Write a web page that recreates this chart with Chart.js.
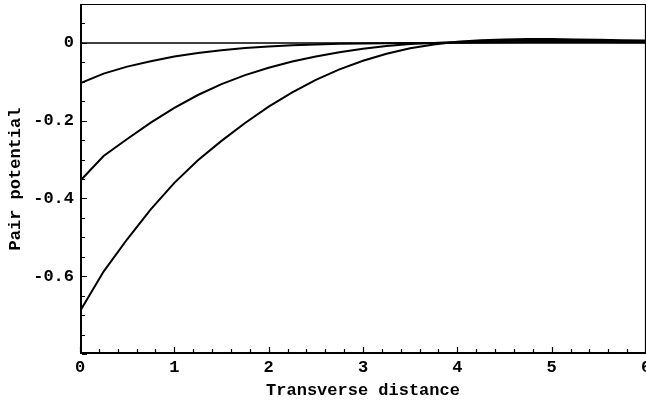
<!DOCTYPE html>
<html>
<head>
<meta charset="utf-8">
<script src="https://cdn.jsdelivr.net/npm/chart.js@4/dist/chart.umd.min.js"></script>
<style>
  html, body { margin:0; padding:0; overflow:hidden; background:#fff; }
  #wrap { width:660px; height:403px; position:relative; }
</style>
</head>
<body>
<div id="wrap"><canvas id="chart"></canvas></div>
<script>
// ------------------------
// DATA
// ------------------------
const xValues = [0, 0.25, 0.5, 0.75, 1, 1.25, 1.5, 1.75, 2, 2.25, 2.5, 2.75, 3,
                 3.25, 3.5, 3.75, 4, 4.25, 4.5, 4.75, 5, 5.25, 5.5, 5.75, 6];

const weakCurve = [-0.104, -0.079, -0.061, -0.047, -0.035, -0.026, -0.019, -0.013, -0.009,
                   -0.006, -0.004, -0.0025, -0.0015, -0.001, -0.0005, 0, 0.0005, 0.001,
                   0.0015, 0.002, 0.002, 0.002, 0.002, 0.0018, 0.0015];

const midCurve = [-0.355, -0.291, -0.247, -0.205, -0.167, -0.134, -0.106, -0.083, -0.064,
                  -0.048, -0.035, -0.024, -0.015, -0.008, -0.003, 0.000, 0.002, 0.004,
                  0.005, 0.006, 0.006, 0.006, 0.005, 0.005, 0.004];

const strongCurve = [-0.690, -0.588, -0.505, -0.428, -0.360, -0.302, -0.252, -0.206, -0.164,
                     -0.127, -0.095, -0.068, -0.046, -0.028, -0.014, -0.004, 0.003, 0.007,
                     0.009, 0.010, 0.010, 0.009, 0.008, 0.007, 0.006];

const zeroLineX = [0, 6];
const zeroLineY = [0, 0];

const X_MIN = 0, X_MAX = 6, X_STEP = 1, X_MINOR = 0.2;
const Y_MIN = -0.8, Y_MAX = 0.1, Y_STEP = 0.2, Y_MINOR = 0.05;
const HIDDEN_Y_LABELS = [-0.8, 0.1];

const FONT = { family: '"Liberation Mono", "DejaVu Sans Mono", monospace', size: 17, weight: 'bold' };

const toPoints = (xs, ys) => xs.map((x, i) => ({ x, y: ys[i] }));

// ------------------------
// FRAME + INWARD TICKS
// ------------------------
const framePlugin = {
  id: 'frame',
  afterDraw(chart){
    const { ctx, chartArea: a, scales: { x, y } } = chart;
    ctx.save();
    ctx.strokeStyle = '#000';

    // top + right (thin)
    ctx.lineWidth = 1.2;
    ctx.beginPath();
    ctx.moveTo(a.left, a.top + 0.5);
    ctx.lineTo(a.right - 0.5, a.top + 0.5);
    ctx.lineTo(a.right - 0.5, a.bottom);
    ctx.stroke();

    // left + bottom (heavy)
    ctx.lineWidth = 2;
    ctx.beginPath();
    ctx.moveTo(a.left + 1, a.top);
    ctx.lineTo(a.left + 1, a.bottom - 1);
    ctx.lineTo(a.right, a.bottom - 1);
    ctx.stroke();

    ctx.lineWidth = 1.2;
    ctx.beginPath();
    // y ticks
    const ny = Math.round((Y_MAX - Y_MIN) / Y_MINOR);
    for(let i = 0; i <= ny; i++){
      const v = +(Y_MIN + i * Y_MINOR).toFixed(3);
      const major = Math.abs(v / Y_STEP - Math.round(v / Y_STEP)) < 1e-6;
      const py = Math.round(y.getPixelForValue(v)) + 0.5;
      ctx.moveTo(a.left + 2, py);
      ctx.lineTo(a.left + 2 + (major ? 5 : 3), py);
    }
    // x ticks
    const nx = Math.round((X_MAX - X_MIN) / X_MINOR);
    for(let i = 0; i <= nx; i++){
      const v = +(X_MIN + i * X_MINOR).toFixed(3);
      const major = Math.abs(v / X_STEP - Math.round(v / X_STEP)) < 1e-6;
      const px = Math.round(x.getPixelForValue(v)) + 0.5;
      ctx.moveTo(px, a.bottom - 2);
      ctx.lineTo(px, a.bottom - 2 - (major ? 5 : 3));
    }
    ctx.stroke();
    ctx.restore();
  }
};

// ------------------------
// CHART
// ------------------------
const lineStyle = { borderColor: '#000', borderWidth: 2, pointRadius: 0, tension: 0, fill: false };

new Chart(document.getElementById('chart').getContext('2d'), {
  type: 'line',
  data: {
    datasets: [
      { label: 'zero', data: toPoints(zeroLineX, zeroLineY), borderColor: '#000', borderWidth: 1.5, pointRadius: 0 },
      { label: 'weak', data: toPoints(xValues, weakCurve), ...lineStyle },
      { label: 'mid', data: toPoints(xValues, midCurve), ...lineStyle },
      { label: 'strong', data: toPoints(xValues, strongCurve), ...lineStyle }
    ]
  },
  options: {
    responsive: true,
    maintainAspectRatio: false,
    animation: false,
    layout: { padding: { top: 4, right: 14, left: 0, bottom: 0 } },
    plugins: { legend: { display: false }, tooltip: { enabled: false } },
    scales: {
      x: {
        type: 'linear', min: X_MIN, max: X_MAX,
        grid: { display: false, drawTicks: false },
        border: { display: false },
        ticks: { stepSize: X_STEP, color: '#000', font: FONT, padding: 4, maxRotation: 0 },
        title: { display: true, text: 'Transverse distance', color: '#000', font: FONT, padding: { top: 0, bottom: 2 } },
        afterFit(s){ s.height = 49; s.paddingLeft = 0; s.paddingRight = 0; }
      },
      y: {
        type: 'linear', min: Y_MIN, max: Y_MAX,
        grid: { display: false, drawTicks: false },
        border: { display: false },
        ticks: {
          stepSize: Y_STEP, color: '#000', font: FONT, padding: 6,
          callback: v => HIDDEN_Y_LABELS.some(h => Math.abs(h - v) < 1e-6) ? null : String(Number(v.toFixed(2)))
        },
        title: { display: true, text: 'Pair potential', color: '#000', font: FONT, padding: { top: 6, bottom: 0 } },
        afterFit(s){ s.width = 80; s.paddingTop = 0; s.paddingBottom = 0; }
      }
    }
  },
  plugins: [framePlugin]
});
</script>
</body>
</html>
